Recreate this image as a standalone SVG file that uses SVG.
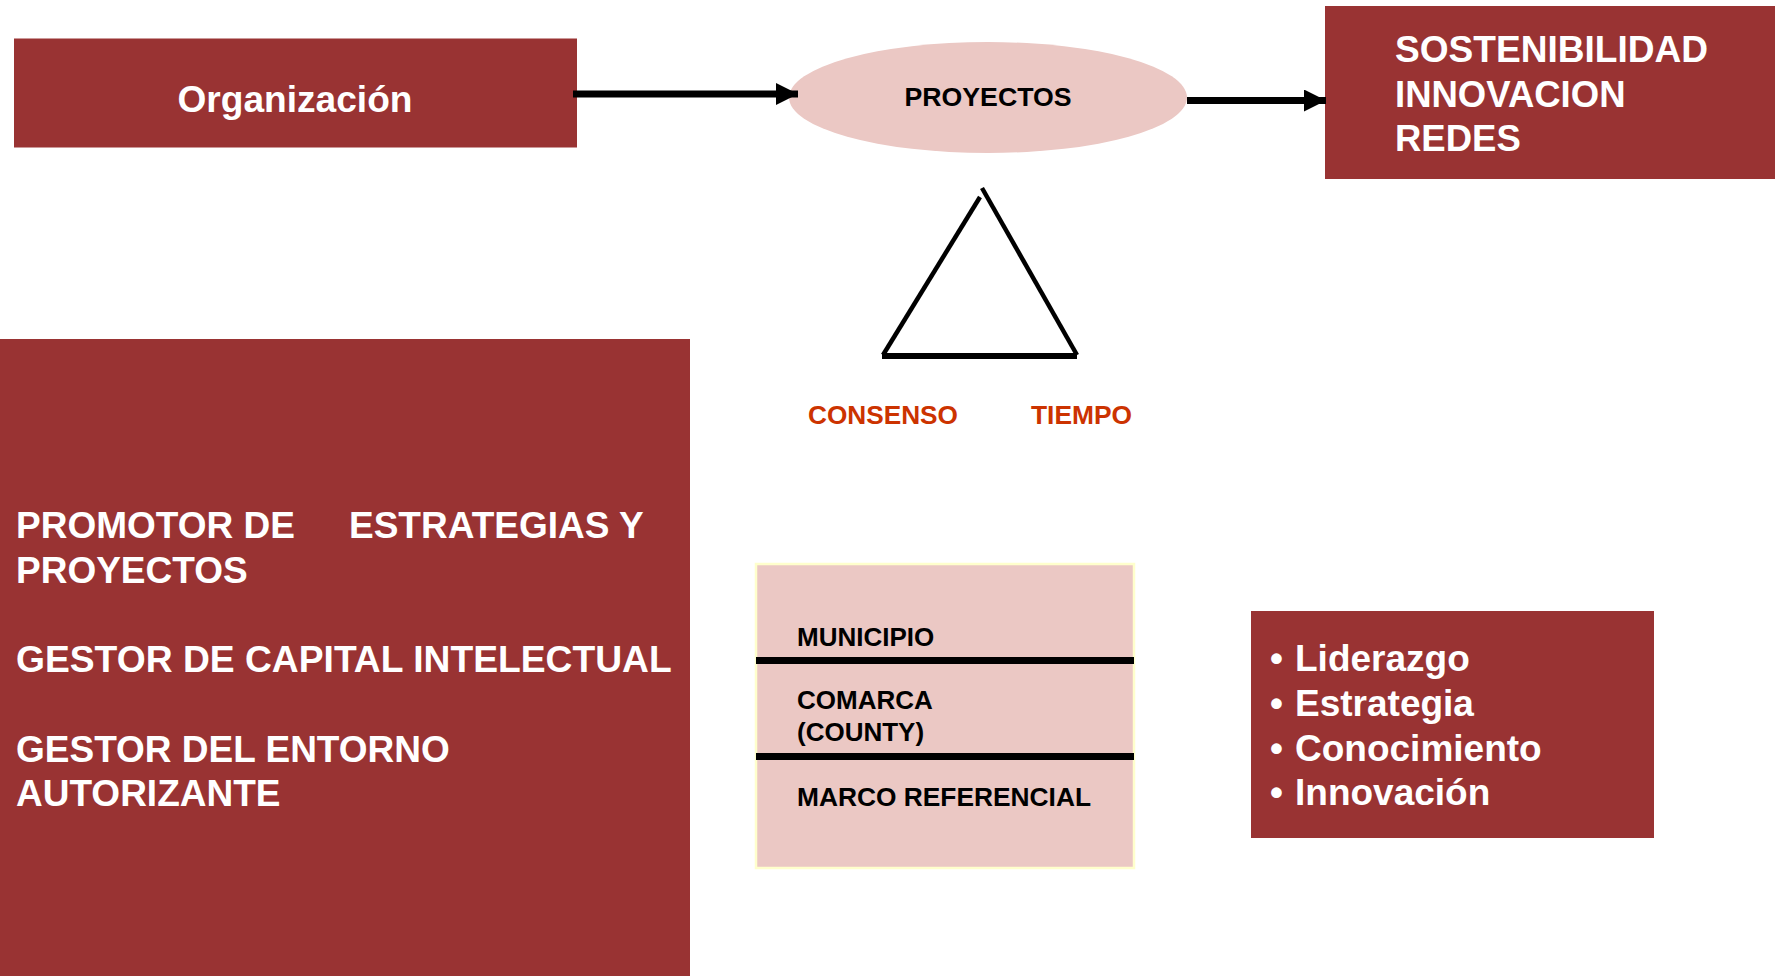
<svg xmlns="http://www.w3.org/2000/svg" width="1775" height="976" viewBox="0 0 1775 976">
<defs>
<style>
.box{fill:#993333}
.pink{fill:#EBC8C4}
.w{fill:#ffffff;font-family:"Liberation Sans",Arial,sans-serif;font-weight:bold}
.k{fill:#000000;font-family:"Liberation Sans",Arial,sans-serif;font-weight:bold}
.o{fill:#CC3300;font-family:"Liberation Sans",Arial,sans-serif;font-weight:bold}
.conn{stroke:#000;stroke-width:7;fill:none}
.tri{stroke:#000;stroke-width:4.5;fill:none}
</style>
<marker id="ah" markerUnits="userSpaceOnUse" markerWidth="24" markerHeight="24" refX="22" refY="11" orient="auto">
<path d="M0,0 L22,11 L0,22 Z" fill="#000"/>
</marker>
</defs>
<rect width="1775" height="976" fill="#ffffff"/>

<g id="organizacion">
<rect class="box" x="14" y="38.5" width="563" height="109"/>
<text class="w" x="295" y="112" font-size="37" text-anchor="middle" textLength="235" lengthAdjust="spacingAndGlyphs">Organización</text>
</g>

<g id="proyectos">
<ellipse class="pink" cx="988" cy="97.5" rx="199" ry="55.5"/>
<text class="k" x="988" y="106" font-size="26" text-anchor="middle" textLength="167" lengthAdjust="spacingAndGlyphs">PROYECTOS</text>
</g>

<g id="resultados">
<rect class="box" x="1325" y="6" width="450" height="173"/>
<text class="w" font-size="36.5">
<tspan x="1395" y="62" textLength="313" lengthAdjust="spacingAndGlyphs">SOSTENIBILIDAD</tspan>
<tspan x="1395" y="107">INNOVACION</tspan>
<tspan x="1395" y="151">REDES</tspan>
</text>
</g>

<g id="triangulo">
<line class="tri" x1="883" y1="355" x2="980" y2="197"/>
<line class="tri" x1="982" y1="188" x2="1077" y2="355"/>
<line x1="882" y1="356" x2="1077" y2="356" stroke="#000" stroke-width="6"/>
</g>

<g id="etiquetas">
<text class="o" x="808" y="424" font-size="26" textLength="150" lengthAdjust="spacingAndGlyphs">CONSENSO</text>
<text class="o" x="1031" y="424" font-size="26" textLength="101" lengthAdjust="spacingAndGlyphs">TIEMPO</text>
</g>

<g id="roles">
<rect class="box" x="0" y="339" width="690" height="637"/>
<text class="w" font-size="37">
<tspan x="16" y="538">PROMOTOR DE</tspan>
<tspan x="349" y="538">ESTRATEGIAS Y</tspan>
<tspan x="16" y="583">PROYECTOS</tspan>
<tspan x="16" y="672" textLength="655" lengthAdjust="spacingAndGlyphs">GESTOR DE CAPITAL INTELECTUAL</tspan>
<tspan x="16" y="762">GESTOR DEL ENTORNO</tspan>
<tspan x="16" y="806">AUTORIZANTE</tspan>
</text>
</g>

<g id="niveles">
<rect class="pink" x="756" y="564" width="378" height="304" stroke="#FFFFCC" stroke-width="2.5"/>
<line x1="756" y1="660.5" x2="1134" y2="660.5" stroke="#000" stroke-width="7"/>
<line x1="756" y1="756.5" x2="1134" y2="756.5" stroke="#000" stroke-width="7"/>
<text class="k" font-size="26">
<tspan x="797" y="646">MUNICIPIO</tspan>
<tspan x="797" y="709">COMARCA</tspan>
<tspan x="797" y="741">(COUNTY)</tspan>
<tspan x="797" y="806" textLength="294" lengthAdjust="spacingAndGlyphs">MARCO REFERENCIAL</tspan>
</text>
</g>

<g id="competencias">
<rect class="box" x="1251" y="611" width="403" height="227"/>
<text class="w" font-size="37">
<tspan x="1270" y="671">•</tspan><tspan x="1295" y="671">Liderazgo</tspan>
<tspan x="1270" y="716">•</tspan><tspan x="1295" y="716">Estrategia</tspan>
<tspan x="1270" y="761">•</tspan><tspan x="1295" y="761">Conocimiento</tspan>
<tspan x="1270" y="805">•</tspan><tspan x="1295" y="805">Innovación</tspan>
</text>
</g>

<g id="connectors">
<line class="conn" x1="573" y1="94" x2="798" y2="94" marker-end="url(#ah)"/>
<line class="conn" x1="1187" y1="100.5" x2="1326" y2="100.5" marker-end="url(#ah)"/>
</g>
</svg>
